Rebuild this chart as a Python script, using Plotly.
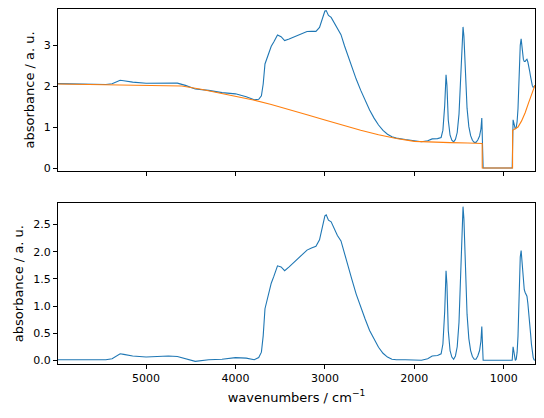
import numpy as np
import plotly.graph_objects as go
from plotly.subplots import make_subplots

# baseline-corrected spectrum (bottom panel)
wn = [5990, 5700, 5450, 5380, 5320, 5290, 5250, 5150, 5000, 4850, 4750, 4650, 4560, 4450, 4300,
      4150, 4000, 3880, 3790, 3740, 3710, 3690, 3670, 3655, 3630, 3600, 3570, 3530, 3490, 3450,
      3400, 3350, 3300, 3250, 3200, 3150, 3100, 3060, 3030, 3000, 2985, 2960, 2930, 2900, 2860,
      2820, 2780, 2740, 2700, 2650, 2600, 2550, 2500, 2450, 2400, 2350, 2300, 2250, 2200, 2100,
      2000, 1920, 1850, 1800, 1740, 1700, 1680, 1660, 1645, 1635, 1620, 1600, 1580, 1560, 1540,
      1520, 1500, 1480, 1465, 1455, 1445, 1430, 1410, 1390, 1370, 1350, 1330, 1310, 1290, 1270,
      1255, 1245, 1240, 1236, 1230, 1100, 905, 895, 888, 880, 870, 860, 850, 840, 830, 815,
      805, 798, 790, 780, 770, 760, 750, 740, 730, 720, 710, 700, 690, 680, 670, 660, 650]
corr = [0.01, 0.01, 0.01, 0.03, 0.10, 0.12, 0.11, 0.08, 0.06, 0.07, 0.08, 0.07, 0.03, -0.02, 0.01,
        0.02, 0.05, 0.04, 0.01, 0.05, 0.15, 0.45, 0.95, 1.05, 1.25, 1.42, 1.55, 1.74, 1.72, 1.65,
        1.72, 1.80, 1.88, 1.95, 2.03, 2.07, 2.10, 2.22, 2.45, 2.66, 2.68, 2.58, 2.55, 2.45, 2.30,
        2.20, 1.95, 1.72, 1.50, 1.22, 0.98, 0.76, 0.55, 0.38, 0.24, 0.13, 0.06, 0.02, 0.01, 0.01,
        0.01, 0.00, 0.03, 0.08, 0.09, 0.12, 0.30, 0.90, 1.65, 1.40, 0.55, 0.18, 0.06, 0.02, 0.08,
        0.25, 0.70, 1.60, 2.50, 2.83, 2.60, 1.70, 0.85, 0.40, 0.18, 0.07, 0.02, 0.02, 0.08, 0.18,
        0.35, 0.62, 0.30, 0.00, 0.00, 0.00, 0.00, 0.25, 0.15, 0.04, 0.00, 0.02, 0.15, 0.45, 1.10, 1.90,
        2.02, 1.85, 1.60, 1.40, 1.30, 1.25, 1.22, 1.18, 1.05, 0.90, 0.70, 0.50, 0.30, 0.15, 0.05, 0.01, 0.00]

# fitted baseline (orange)
base_wn = [5990, 5500, 5000, 4600, 4400, 4200, 4000, 3800, 3600, 3400, 3200, 3000, 2800, 2600,
           2400, 2200, 2000, 1800, 1600, 1400, 1241, 1240, 901, 900, 870, 840, 800, 760, 720, 690, 670, 650]
base = [2.05, 2.03, 2.01, 2.00, 1.93, 1.84, 1.76, 1.66, 1.55, 1.43, 1.30, 1.17, 1.04, 0.92,
        0.81, 0.72, 0.65, 0.63, 0.62, 0.61, 0.60, 0.00, 0.00, 0.92, 0.95, 1.00, 1.15, 1.35, 1.60, 1.80, 1.92, 2.02]

raw = np.array(corr) + np.interp(wn[::-1], base_wn[::-1], base[::-1])[::-1]

blue, orange = "#1f77b4", "#ff7f0e"
fig = make_subplots(rows=2, cols=1, shared_xaxes=True, vertical_spacing=0.09)
fig.add_trace(go.Scatter(x=wn, y=raw, mode="lines", line=dict(color=blue, width=1.1)), row=1, col=1)
fig.add_trace(go.Scatter(x=base_wn, y=base, mode="lines", line=dict(color=orange, width=1.1)), row=1, col=1)
fig.add_trace(go.Scatter(x=wn, y=corr, mode="lines", line=dict(color=blue, width=1.1)), row=2, col=1)

ax = dict(showline=True, linecolor="black", linewidth=1, mirror=True, ticks="outside",
          ticklen=4, tickcolor="black", showgrid=False, zeroline=False, automargin=False)
fig.update_xaxes(**ax, range=[5985, 650], tickvals=[5000, 4000, 3000, 2000, 1000])
fig.update_xaxes(title_text="wavenumbers / cm<sup>−1</sup>", title_standoff=8, row=2, col=1)
fig.update_yaxes(**ax, title_text="absorbance / a. u.", title_standoff=6)
fig.update_yaxes(range=[-0.07, 3.88], tickvals=[0, 1, 2, 3], domain=[0.544, 1.0], row=1, col=1)
fig.update_yaxes(range=[-0.068, 2.894], tickvals=[0, 0.5, 1, 1.5, 2, 2.5], tickformat=".1f",
                 domain=[0.0, 0.453], row=2, col=1)
fig.update_layout(width=536, height=410, margin=dict(l=50, r=9, t=1, b=54), showlegend=False,
                  plot_bgcolor="white", paper_bgcolor="white",
                  font=dict(family="DejaVu Sans", size=11, color="black"))
fig.write_html("out.html")
